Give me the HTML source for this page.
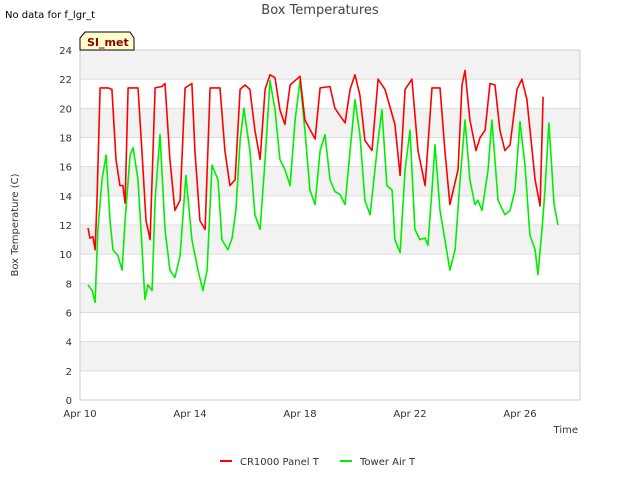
<!DOCTYPE html>
<html><head><meta charset="utf-8"><style>
body{margin:0;background:#fff;font-family:"Liberation Sans","DejaVu Sans",sans-serif}
svg text{font-family:"DejaVu Sans","Liberation Sans",sans-serif}
</style></head><body>
<svg id="chart" width="640" height="480" viewBox="0 0 640 480" xmlns="http://www.w3.org/2000/svg">
<rect width="640" height="480" fill="#fff"/>
<text x="5" y="18" font-size="10" fill="#000">No data for f_lgr_t</text>
<text x="320" y="14" font-size="13" fill="#444" text-anchor="middle">Box Temperatures</text>
<g id="plot"></g>
<g>
<path d="M80,50 L80,38 L85,32 L130,32 L134,38 L134,50 Z" fill="#ffffcc" stroke="#000" stroke-width="1"/>
<text x="87" y="46" font-size="11" font-weight="bold" fill="#8b0000">SI_met</text>
</g>
<text x="18" y="225" font-size="10" fill="#333" text-anchor="middle" transform="rotate(-90 18 225)">Box Temperature (C)</text>
<text x="578" y="433" font-size="10" fill="#333" text-anchor="end">Time</text>
<g>
<g><line x1="220" y1="461" x2="232" y2="461" stroke="#ff0000" stroke-width="2"/><text x="240" y="465" font-size="10" fill="#333">CR1000 Panel T</text></g>
<g><line x1="340" y1="461" x2="352" y2="461" stroke="#00ee00" stroke-width="2"/><text x="360" y="465" font-size="10" fill="#333">Tower Air T</text></g>
</g>
</svg>
<script>
const yTicks=[0,2,4,6,8,10,12,14,16,18,20,22,24];
const xTickDays=[0,4,8,12,16];
const xTickLabels=["Apr 10","Apr 14","Apr 18","Apr 22","Apr 26"];
const redDays=[0.29,0.36,0.47,0.55,0.62,0.73,1.02,1.16,1.31,1.45,1.56,1.64,1.75,2.0,2.11,2.25,2.4,2.55,2.73,2.98,3.09,3.27,3.45,3.64,3.82,4.07,4.18,4.36,4.55,4.73,5.09,5.27,5.45,5.64,5.82,6.0,6.18,6.36,6.55,6.73,6.91,7.09,7.27,7.45,7.64,8.0,8.18,8.55,8.73,9.09,9.27,9.64,9.82,10.0,10.18,10.36,10.62,10.84,11.09,11.45,11.64,11.82,12.07,12.29,12.55,12.8,13.09,13.27,13.45,13.75,13.89,14.0,14.18,14.4,14.55,14.73,14.91,15.09,15.27,15.45,15.64,15.89,16.07,16.25,16.55,16.73,16.84];
const redVals=[11.8,11.1,11.2,10.3,13.7,21.4,21.4,21.3,16.5,14.7,14.7,13.5,21.4,21.4,21.4,17.1,12.3,11.0,21.4,21.5,21.7,16.5,13.0,13.7,21.4,21.7,17.1,12.3,11.7,21.4,21.4,17.1,14.7,15.1,21.3,21.6,21.3,18.5,16.5,21.3,22.3,22.1,19.9,18.9,21.6,22.2,19.2,17.9,21.4,21.5,20.0,19.0,21.3,22.3,20.9,17.8,17.1,22.0,21.3,18.9,15.4,21.3,22.0,17.1,14.7,21.4,21.4,17.1,13.4,15.8,21.6,22.6,19.2,17.1,18.0,18.5,21.7,21.6,18.5,17.1,17.5,21.3,22.0,20.6,15.1,13.3,20.8];
const greenDays=[0.29,0.44,0.55,0.65,0.8,0.95,1.09,1.2,1.38,1.53,1.64,1.82,1.93,2.11,2.25,2.36,2.47,2.62,2.73,2.91,3.09,3.27,3.45,3.64,3.85,4.07,4.29,4.47,4.62,4.8,5.02,5.16,5.38,5.53,5.67,5.82,5.96,6.18,6.36,6.55,6.73,6.91,7.09,7.27,7.45,7.64,7.82,8.0,8.18,8.36,8.55,8.73,8.91,9.09,9.27,9.45,9.64,9.82,10.0,10.18,10.36,10.55,10.84,10.98,11.16,11.35,11.45,11.64,11.82,12.0,12.18,12.36,12.55,12.65,12.8,12.91,13.09,13.27,13.45,13.64,13.82,14.0,14.18,14.36,14.47,14.62,14.84,14.98,15.2,15.45,15.64,15.82,16.0,16.18,16.36,16.55,16.65,16.8,16.91,17.05,17.24,17.38];
const greenVals=[7.9,7.5,6.7,11.7,15.1,16.8,12.3,10.3,9.9,8.9,12.3,16.8,17.3,15.1,10.6,6.9,7.9,7.5,13.7,18.2,11.7,8.9,8.4,9.9,15.4,11.0,8.9,7.5,8.9,16.1,15.1,11.0,10.3,11.1,13.0,17.8,20.0,17.1,12.7,11.7,16.5,21.9,19.9,16.5,15.8,14.7,19.2,21.9,18.5,14.4,13.4,17.1,18.2,15.1,14.3,14.1,13.4,17.1,20.6,18.2,13.7,12.7,17.8,19.9,14.7,14.4,11.0,10.1,15.8,18.5,11.7,11.0,11.1,10.6,14.4,17.5,13.0,11.0,8.9,10.3,15.1,19.2,15.1,13.4,13.7,13.0,15.8,19.2,13.7,12.7,13.0,14.4,19.1,16.1,11.3,10.3,8.6,11.7,14.4,19.0,13.4,12.0];
const NS="http://www.w3.org/2000/svg";
const L=80,R=580,T=50,B=400;
const xs=d=>L+d*27.5;
const ys=v=>B-(v/24)*(B-T);
const plot=document.getElementById('plot');
function mk(tag,attrs){const e=document.createElementNS(NS,tag);for(const k in attrs)e.setAttribute(k,attrs[k]);plot.appendChild(e);return e;}
for(let i=0;i<yTicks.length-1;i++){
  const bg=mk('rect',{x:L,y:ys(yTicks[i+1]),width:R-L,height:ys(yTicks[i])-ys(yTicks[i+1]),fill:(i%2===1)?'#f2f2f2':'#ffffff'});
  
  
}
yTicks.forEach(v=>{
  const g=mk('line',{x1:L,x2:R,y1:ys(v),y2:ys(v),stroke:'#dddddd','stroke-width':1});
  
  
  const t=mk('text',{x:L-8,y:ys(v)+4,'font-size':10,fill:'#333','text-anchor':'end'});
  t.textContent=v;
  
  
});
const fr=mk('rect',{x:L,y:T,width:R-L,height:B-T,fill:'none',stroke:'#cccccc','stroke-width':1});


xTickDays.forEach((d,i)=>{
  const t=mk('text',{x:xs(d),y:B+17,'font-size':10,fill:'#333','text-anchor':'middle'});
  t.textContent=xTickLabels[i];
  
  
});
function line(days,vals,color,name){
  const p=mk('polyline',{points:days.map((d,i)=>xs(d).toFixed(1)+','+ys(vals[i]).toFixed(1)).join(' '),fill:'none',stroke:color,'stroke-width':1.6,'stroke-linejoin':'round'});
  
  
}
line(greenDays,greenVals,'#00ee00','tower-air-t-line');
line(redDays,redVals,'#ff0000','cr1000-panel-t-line');
</script>
</body></html>
